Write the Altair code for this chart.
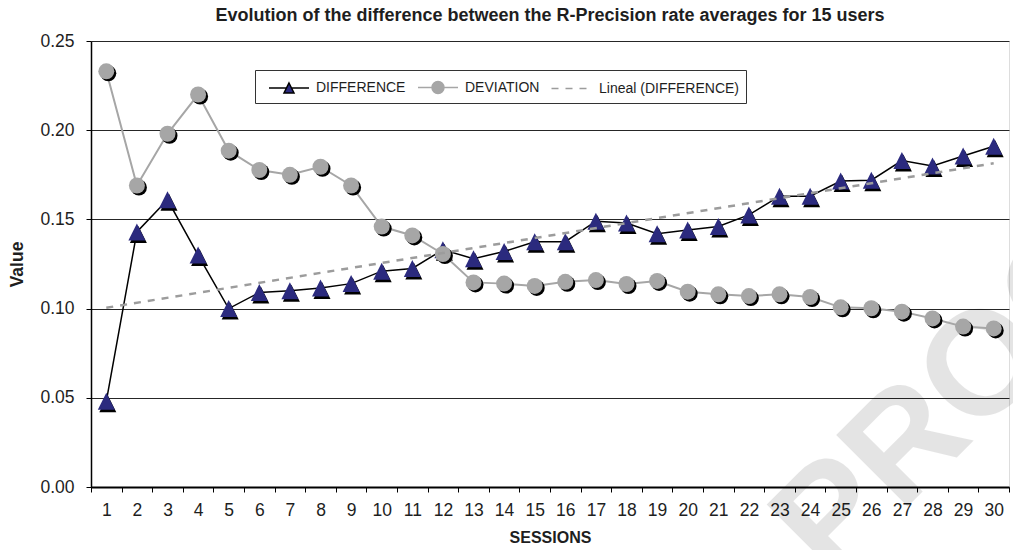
import altair as alt
import pandas as pd

# Session numbers and the two averaged R-Precision series
sessions = list(range(1, 31))
difference = [0.048, 0.143, 0.161, 0.130, 0.100, 0.109, 0.110, 0.1115, 0.114, 0.121,
              0.1225, 0.133, 0.128, 0.132, 0.1375, 0.1375, 0.149, 0.148, 0.142, 0.144,
              0.146, 0.1525, 0.163, 0.163, 0.1715, 0.172, 0.183, 0.180, 0.1855, 0.191]
deviation = [0.233, 0.169, 0.198, 0.220, 0.1885, 0.1777, 0.175, 0.1795, 0.169, 0.146,
             0.141, 0.1306, 0.1147, 0.114, 0.1127, 0.115, 0.116, 0.1138, 0.1155, 0.1095,
             0.108, 0.107, 0.108, 0.1065, 0.1007, 0.1002, 0.0983, 0.0945, 0.0899, 0.0889]
y_ticks = [0.0, 0.05, 0.10, 0.15, 0.20, 0.25]
series_names = ["DIFFERENCE", "DEVIATION", "Lineal (DIFFERENCE)"]
chart_title = "Evolution of the difference between the R-Precision rate averages for 15 users"

NAVY = "#2b2a7e"
GRAY = "#a6a6a6"
TREND = "#9c9c9c"
INK = "#1e1e1e"
FONT = "Liberation Sans"
TRIANGLE = "M0,-1L1,1L-1,1Z"

df = pd.DataFrame({"session": sessions, "difference": difference, "deviation": deviation})

x_enc = alt.X(
    "session:O",
    title="SESSIONS",
    bandPosition=0.5,
    scale=alt.Scale(type="band", domain=sessions, paddingInner=0, paddingOuter=0),
    axis=alt.Axis(
        tickBand="extent", labelAngle=0, labelFontSize=17.5, labelPadding=9,
        tickSize=5, tickColor="black", domainColor="black", domainWidth=2,
        grid=False, titleFontSize=16, titleFontWeight="bold", titlePadding=11,
        labelColor=INK, titleColor=INK, labelFont=FONT, titleFont=FONT,
    ),
)


def y_enc(field):
    return alt.Y(
        f"{field}:Q",
        title="Value",
        scale=alt.Scale(domain=[0, 0.25], nice=False, zero=True),
        axis=alt.Axis(
            values=y_ticks, format=".2f", grid=True, gridColor="#262626", gridWidth=1,
            tickSize=5, tickColor="black", labelPadding=12, labelFontSize=17.5,
            domainColor="black", domainWidth=1.5, titleFontSize=17.5,
            titleFontWeight="bold", titlePadding=13, labelColor=INK, titleColor=INK,
            labelFont=FONT, titleFont=FONT,
        ),
    )


base = alt.Chart(df)

stamp = alt.Chart(pd.DataFrame({"t": ["PROOF"]})).mark_text(
    font=FONT, fontSize=147, fontWeight="bold", angle=315, align="center",
    baseline="middle", color="black", opacity=0.1,
).encode(text="t:N", x=alt.value(894), y=alt.value(326))

# Chart heading, centred above the plot frame
heading = alt.Chart(pd.DataFrame({"t": [chart_title]})).mark_text(
    font=FONT, fontSize=18, fontWeight="bold", align="center",
    baseline="alphabetic", color=INK,
).encode(text="t:N", x=alt.value(459), y=alt.value(-20))

diff_line = base.mark_line(color="black", strokeWidth=1.5).encode(x=x_enc, y=y_enc("difference"))
diff_shadow = base.mark_point(
    shape=TRIANGLE, filled=True, size=289, color="black", opacity=1, xOffset=1.5, yOffset=2.5
).encode(x=x_enc, y=y_enc("difference"))
diff_pts = base.mark_point(
    shape=TRIANGLE, filled=True, size=289, color=NAVY, opacity=1
).encode(x=x_enc, y=y_enc("difference"))

dev_line = base.mark_line(color=GRAY, strokeWidth=2).encode(x=x_enc, y=y_enc("deviation"))
dev_shadow = base.mark_point(
    shape="circle", filled=True, size=256, color="black", opacity=1, xOffset=2, yOffset=2
).encode(x=x_enc, y=y_enc("deviation"))
dev_pts = base.mark_point(
    shape="circle", filled=True, size=256, color=GRAY, opacity=1
).encode(x=x_enc, y=y_enc("deviation"))

# Least-squares trend of the DIFFERENCE series
trend = base.transform_regression(
    "session", "difference", method="linear", extent=[1, 30]
).mark_line(color=TREND, strokeWidth=2.5, strokeDash=[7, 7]).encode(
    x=x_enc, y=y_enc("difference")
)

# Legend symbols: line + marker glyphs, and a dashed stroke for the trend
legend_paths = [
    "M-0.3,0L1.45,0M1.95,0L3.7,0M1.7,-0.5L2.2,0.5L1.2,0.5Z",
    "M-0.3,0L1.1,0M2.3,0L3.7,0M1.1,0A0.6,0.6 0 1,0 2.3,0A0.6,0.6 0 1,0 1.1,0Z",
    "M-0.35,0L0.35,0M1.05,0L1.75,0M2.45,0L3.15,0",
]
legend_box = alt.Legend(
    title=None, orient="none", legendX=164, legendY=29, direction="horizontal",
    strokeColor="#333333", fillColor="white", padding=6, labelFont=FONT,
    labelFontSize=14, labelColor=INK, labelOffset=33, columnPadding=4,
    symbolSize=400, symbolStrokeWidth=1.5, cornerRadius=0, labelLimit=300,
)
legend_layer = alt.Chart(pd.DataFrame({"series": series_names})).transform_filter(
    "false"
).mark_point(filled=True, opacity=1, size=400, strokeWidth=1.5).encode(
    shape=alt.Shape("series:N", scale=alt.Scale(domain=series_names, range=legend_paths),
                    legend=legend_box),
    fill=alt.Fill("series:N", scale=alt.Scale(domain=series_names, range=[NAVY, GRAY, "transparent"]),
                  legend=legend_box),
    stroke=alt.Stroke("series:N", scale=alt.Scale(domain=series_names, range=["black", GRAY, TREND]),
                      legend=legend_box),
)

chart = alt.layer(
    stamp, heading, diff_line, diff_shadow, diff_pts, dev_line, dev_shadow, dev_pts,
    trend, legend_layer
).properties(
    width=918,
    height=446,
    autosize="none",
    padding={"left": 91, "top": 41, "right": 4, "bottom": 63},
).configure_view(
    stroke="black", strokeWidth=1
).configure(background="white")

chart.save("out.html", embed_options={"renderer": "svg", "actions": False})
